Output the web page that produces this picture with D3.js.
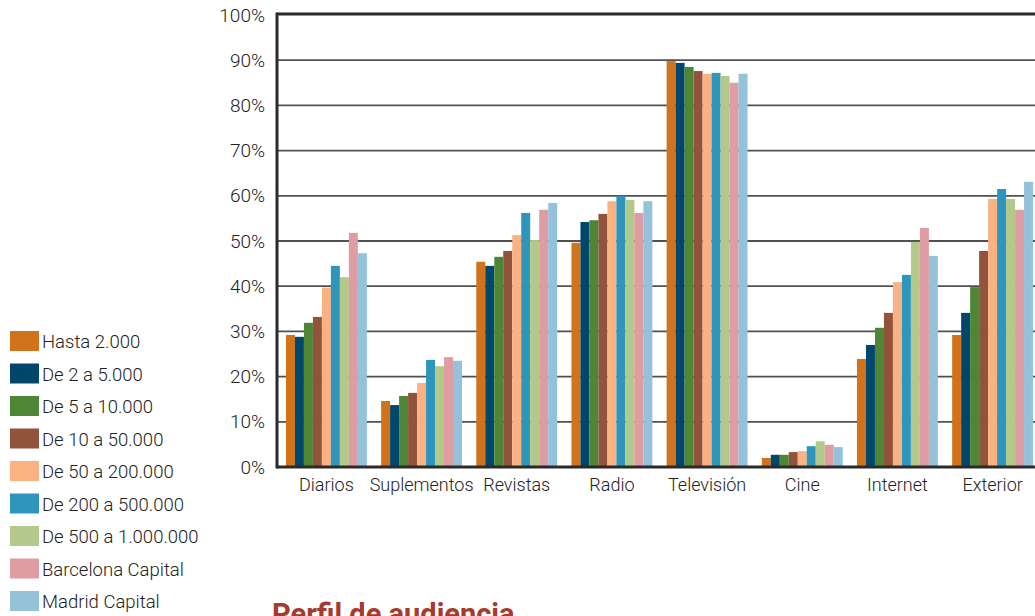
<!DOCTYPE html>
<html>
<head>
<meta charset="utf-8">
<script src="https://cdn.jsdelivr.net/npm/d3@7"></script>
<style>
  body { margin: 0; background: #fff; }
  svg { display: block; font-family: Roboto, "Liberation Sans", sans-serif; }
</style>
</head>
<body>
<svg class="chart" width="1035" height="616"></svg>
<script>
// medios
var categories = ["Diarios", "Suplementos", "Revistas", "Radio", "Televisión", "Cine", "Internet", "Exterior"];
var seriesNames = ["Hasta 2.000", "De 2 a 5.000", "De 5 a 10.000", "De 10 a 50.000", "De 50 a 200.000",
                   "De 200 a 500.000", "De 500 a 1.000.000", "Barcelona Capital", "Madrid Capital"];
var seriesColors = ["#d0731a", "#00476b", "#4f8635", "#91533c", "#fbb283", "#2e96bb", "#b3c98c", "#df9ca2", "#93c2da"];

// one array per serie, in the order of categories
var hasta2000   = [29.2, 14.6, 45.4, 49.6, 89.8, 2.0, 23.9, 29.2];
var de2a5       = [28.8, 13.7, 44.5, 54.2, 89.4, 2.7, 27.0, 34.1];
var de5a10      = [31.9, 15.7, 46.5, 54.6, 88.5, 2.7, 30.8, 39.8];
var de10a50     = [33.2, 16.4, 47.8, 56.0, 87.6, 3.3, 34.1, 47.8];
var de50a200    = [39.7, 18.6, 51.3, 58.8, 87.0, 3.5, 40.9, 59.3];
var de200a500   = [44.5, 23.7, 56.2, 60.0, 87.2, 4.6, 42.5, 61.5];
var de500a1000  = [42.0, 22.3, 50.2, 59.1, 86.5, 5.7, 49.8, 59.3];
var barcelona   = [51.8, 24.3, 56.9, 56.2, 85.0, 4.9, 52.9, 56.9];
var madrid      = [47.3, 23.5, 58.4, 58.8, 87.0, 4.4, 46.7, 63.1];

var yTicks = [0, 10, 20, 30, 40, 50, 60, 70, 80, 90, 100];

var allSeries = [hasta2000, de2a5, de5a10, de10a50, de50a200, de200a500, de500a1000, barcelona, madrid];

var svg = d3.select(".chart");

var plot = {left: 277, right: 1042, top: 15, bottom: 467};

var x = d3.scaleBand().domain(categories).range([plot.left, plot.right])
  .paddingInner(0.15).paddingOuter(0.094);
var xs = d3.scaleBand().domain(d3.range(seriesNames.length)).range([0, x.bandwidth()]);
var y = d3.scaleLinear().domain([0, 100]).range([plot.bottom, plot.top]);

// gridlines
svg.append("g")
  .selectAll("line")
  .data(yTicks.filter(function(d) { return d > 0 && d < 100; }))
  .enter().append("line")
  .attr("x1", plot.left).attr("x2", 1035)
  .attr("y1", function(d) { return y(d); })
  .attr("y2", function(d) { return y(d); })
  .attr("stroke", "#505050")
  .attr("stroke-width", 1.8);

// bars
var groups = svg.append("g")
  .selectAll("g")
  .data(categories)
  .enter().append("g")
  .attr("transform", function(d) { return "translate(" + x(d) + ",0)"; });

groups.selectAll("rect")
  .data(function(d, ci) { return allSeries.map(function(s, si) { return {s: si, v: s[ci]}; }); })
  .enter().append("rect")
  .attr("x", function(d) { return xs(d.s); })
  .attr("width", xs.bandwidth())
  .attr("y", function(d) { return y(d.v); })
  .attr("height", function(d) { return y(0) - y(d.v); })
  .attr("fill", function(d) { return seriesColors[d.s]; });

// frame
svg.append("line").attr("x1", plot.left).attr("x2", 1035).attr("y1", plot.top - 1).attr("y2", plot.top - 1)
  .attr("stroke", "#2a2a2a").attr("stroke-width", 3);
svg.append("line").attr("x1", plot.left).attr("x2", 1035).attr("y1", plot.bottom).attr("y2", plot.bottom)
  .attr("stroke", "#2a2a2a").attr("stroke-width", 3);
svg.append("line").attr("x1", plot.left).attr("x2", plot.left).attr("y1", plot.top - 2.5).attr("y2", plot.bottom + 1.5)
  .attr("stroke", "#2a2a2a").attr("stroke-width", 3);

// y axis
var yAxis = svg.append("g")
  .attr("transform", "translate(" + (plot.left - 2) + ",0)")
  .call(d3.axisLeft(y).tickValues(yTicks).tickSize(0).tickPadding(10)
    .tickFormat(function(d) { return d + "%"; }));
yAxis.select(".domain").remove();
yAxis.selectAll("text").attr("font-size", 19).attr("font-weight", 300).attr("fill", "#222")
  .attr("font-family", "Roboto, sans-serif");

// x axis
var xAxis = svg.append("g")
  .attr("transform", "translate(0," + plot.bottom + ")")
  .call(d3.axisBottom(x).tickSize(0).tickPadding(11));
xAxis.select(".domain").remove();
xAxis.selectAll("text").attr("font-size", 18).attr("font-weight", 300).attr("fill", "#222")
  .attr("font-family", "Roboto, sans-serif");

// legend
var legend = svg.append("g")
  .selectAll("g")
  .data(seriesNames)
  .enter().append("g")
  .attr("transform", function(d, i) { return "translate(10," + (331 + i * 32.5) + ")"; });

legend.append("rect")
  .attr("width", 29).attr("height", 20)
  .attr("fill", function(d, i) { return seriesColors[i]; });

legend.append("text")
  .attr("x", 32).attr("y", 17)
  .attr("font-size", 18.5).attr("font-weight", 300).attr("fill", "#222")
  .text(function(d) { return d; });

// title (cut off at the bottom, as in the source)
svg.append("text")
  .attr("x", 272).attr("y", 624)
  .attr("font-size", 29).attr("font-weight", "bold")
  .attr("fill", "#a53a2d")
  .text("Perfil de audiencia");
</script>
</body>
</html>
